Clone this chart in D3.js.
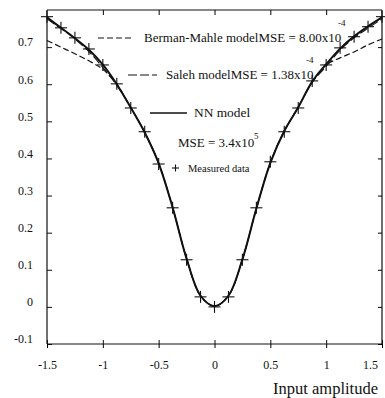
<!DOCTYPE html>
<html>
<head>
<meta charset="utf-8">
<script src="https://cdn.jsdelivr.net/npm/d3@7"></script>
<style>
  body { margin: 0; background: #fff; }
  svg { display: block; }
  text { font-family: "Liberation Serif", "Times New Roman", serif; fill: #111; }
</style>
</head>
<body>
<svg id="chart" width="385" height="398"></svg>
<script>
// ---- data ----
const inputAmplitude = [-1.5, -1.375, -1.25, -1.125, -1.0, -0.875, -0.75, -0.625, -0.5, -0.375, -0.25, -0.125, 0,
                        0.125, 0.25, 0.375, 0.5, 0.625, 0.75, 0.875, 1.0, 1.125, 1.25, 1.375, 1.5];
const measuredData = [0.782, 0.752, 0.725, 0.695, 0.652, 0.601, 0.536, 0.472, 0.385, 0.267, 0.127, 0.027, 0.0,
                      0.027, 0.127, 0.267, 0.391, 0.472, 0.536, 0.609, 0.652, 0.698, 0.728, 0.755, 0.782];
const nnModel      = [0.780, 0.752, 0.724, 0.693, 0.653, 0.600, 0.537, 0.470, 0.387, 0.268, 0.130, 0.030, 0.002,
                      0.030, 0.128, 0.265, 0.388, 0.474, 0.538, 0.607, 0.654, 0.696, 0.729, 0.756, 0.780];
const bermanMahle  = [0.718, 0.700, 0.682, 0.663, 0.640, 0.600, 0.537, 0.470, 0.387, 0.268, 0.130, 0.030, 0.002,
                      0.030, 0.128, 0.265, 0.388, 0.474, 0.538, 0.607, 0.652, 0.671, 0.687, 0.706, 0.722];
const salehModel   = [0.776, 0.750, 0.722, 0.688, 0.645, 0.597, 0.537, 0.470, 0.387, 0.268, 0.130, 0.030, 0.002,
                      0.030, 0.128, 0.265, 0.388, 0.474, 0.538, 0.605, 0.648, 0.692, 0.725, 0.751, 0.776];
const xTicks = [-1.5, -1, -0.5, 0, 0.5, 1, 1.5];
const xTickLabels = ["-1.5", "-1", "-0.5", "0", "0.5", "1", "1.5"];
const yTicks = [-0.1, 0, 0.1, 0.2, 0.3, 0.4, 0.5, 0.6, 0.7];
const yTickLabels = ["-0.1", "0", "0.1", "0.2", "0.3", "0.4", "0.5", "0.6", "0.7"];
const xLabel = "Input amplitude";

// ---- layout ----
const svg = d3.select("#chart");
const L = 47, R = 382, T = 10, B = 344;
const x = d3.scaleLinear().domain([-1.5, 1.5]).range([L, R]);
const y = d3.scaleLinear().domain([-0.1, 0.8]).range([B, T]);

// frame
const frame = svg.append("g").attr("stroke", "#111").attr("stroke-width", 1.2);
frame.append("line").attr("x1", L).attr("x2", L).attr("y1", T).attr("y2", B);
frame.append("line").attr("x1", R).attr("x2", R).attr("y1", T).attr("y2", B);
frame.append("line").attr("x1", L).attr("x2", R).attr("y1", T).attr("y2", T);
frame.append("line").attr("x1", L).attr("x2", R).attr("y1", B).attr("y2", B);

// left axis
const gl = svg.append("g").attr("transform", `translate(${L},0)`)
  .call(d3.axisLeft(y).tickValues(yTicks).tickSize(-5).tickPadding(14)
        .tickFormat((d, i) => yTickLabels[i]));
gl.select(".domain").remove();
gl.selectAll("text").attr("y", -5).attr("font-size", 12).attr("font-family", "Liberation Serif");
gl.selectAll("line").attr("stroke", "#111");

// right axis (ticks only)
const gr = svg.append("g").attr("transform", `translate(${R},0)`)
  .call(d3.axisRight(y).tickValues(yTicks).tickSize(-4).tickFormat(""));
gr.select(".domain").remove();

// top axis (ticks only)
const gt = svg.append("g").attr("transform", `translate(0,${T})`)
  .call(d3.axisTop(x).tickValues(xTicks.slice(1, -1)).tickSize(-5).tickFormat(""));
gt.select(".domain").remove();

// bottom axis
const gb = svg.append("g").attr("transform", `translate(0,${B})`)
  .call(d3.axisBottom(x).tickValues(xTicks).tickSize(4).tickPadding(12.5)
        .tickFormat((d, i) => xTickLabels[i]));
gb.select(".domain").remove();
gb.selectAll(".tick").append("line").attr("y2", -4).attr("stroke", "#111");
gb.selectAll("text").attr("font-size", 12).attr("font-family", "Liberation Serif")
  .attr("x", (d, i) => i === xTicks.length - 1 ? -12 : 0);

svg.append("text").attr("x", 378).attr("y", 394).attr("text-anchor", "end")
  .attr("font-size", 16.5).text(xLabel);

// curves
const pts = arr => inputAmplitude.map((a, i) => [a, arr[i]]);
const line = d3.line().x(d => x(d[0])).y(d => y(d[1])).curve(d3.curveCatmullRom);
svg.append("path").attr("d", line(pts(bermanMahle))).attr("fill", "none")
  .attr("stroke", "#111").attr("stroke-width", 1.2).attr("stroke-dasharray", "6,3");
svg.append("path").attr("d", line(pts(salehModel))).attr("fill", "none")
  .attr("stroke", "#111").attr("stroke-width", 1.1).attr("stroke-dasharray", "9,3");
svg.append("path").attr("d", line(pts(nnModel))).attr("fill", "none")
  .attr("stroke", "#111").attr("stroke-width", 2);

// markers
const mk = svg.append("g").attr("stroke", "#111").attr("stroke-width", 1.1);
const plus = (cx, cy, h) => {
  mk.append("line").attr("x1", cx - h).attr("x2", cx + h).attr("y1", cy).attr("y2", cy);
  mk.append("line").attr("x1", cx).attr("x2", cx).attr("y1", cy - h).attr("y2", cy + h);
};
pts(measuredData).forEach(d => plus(x(d[0]), y(d[1]), 6));

// legend
const lg = svg.append("g");
lg.append("line").attr("x1", 98).attr("x2", 132).attr("y1", 38).attr("y2", 38)
  .attr("stroke", "#111").attr("stroke-width", 1.2).attr("stroke-dasharray", "6,3");
lg.append("text").attr("x", 144).attr("y", 42).attr("font-size", 13).text("Berman-Mahle modelMSE = 8.00x10");
lg.append("text").attr("x", 338).attr("y", 26).attr("font-size", 9).text("-4");

lg.append("line").attr("x1", 128).attr("x2", 157).attr("y1", 75).attr("y2", 75)
  .attr("stroke", "#111").attr("stroke-width", 1.1).attr("stroke-dasharray", "9,3");
lg.append("text").attr("x", 166).attr("y", 79).attr("font-size", 13).text("Saleh modelMSE = 1.38x10");
lg.append("text").attr("x", 306).attr("y", 63).attr("font-size", 9).text("-4");

lg.append("line").attr("x1", 150).attr("x2", 187).attr("y1", 113).attr("y2", 113)
  .attr("stroke", "#111").attr("stroke-width", 1.4);
lg.append("text").attr("x", 194).attr("y", 117).attr("font-size", 13.4).text("NN model");

lg.append("text").attr("x", 178).attr("y", 147).attr("font-size", 13).text("MSE = 3.4x10");
lg.append("text").attr("x", 254).attr("y", 139).attr("font-size", 9).text("5");

plus(175.5, 168, 3.5);
lg.append("text").attr("x", 188).attr("y", 172).attr("font-size", 10.5).text("Measured data");
</script>
</body>
</html>
